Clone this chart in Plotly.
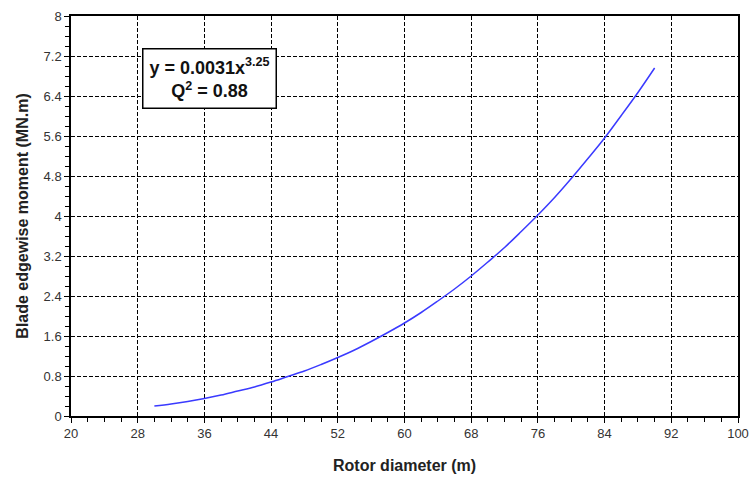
import plotly.graph_objects as go

rotor_diameter = [30, 32, 34, 36, 38, 40, 42, 44, 46, 48, 50, 52, 54, 56, 58, 60,
                  62, 64, 66, 68, 70, 72, 74, 76, 78, 80, 82, 84, 86, 88, 90]
edgewise_moment = [0.20, 0.24, 0.29, 0.35, 0.42, 0.50, 0.58, 0.68, 0.79, 0.90, 1.03,
                   1.17, 1.32, 1.49, 1.67, 1.86, 2.07, 2.30, 2.54, 2.80, 3.08, 3.37,
                   3.69, 4.02, 4.37, 4.75, 5.15, 5.56, 6.01, 6.47, 6.96]
x_ticks = [20, 28, 36, 44, 52, 60, 68, 76, 84, 92, 100]
y_ticks = [0, 0.8, 1.6, 2.4, 3.2, 4, 4.8, 5.6, 6.4, 7.2, 8]
y_tick_labels = ["0", "0.8", "1.6", "2.4", "3.2", "4", "4.8", "5.6", "6.4", "7.2", "8"]

FONT = "Liberation Sans, Arial"

fig = go.Figure()
fig.add_trace(go.Scatter(x=rotor_diameter, y=edgewise_moment, mode="lines",
                         line=dict(color="#3a3aff", width=1.5, shape="spline"),
                         showlegend=False))

axis_common = dict(
    showline=True, linecolor="black", linewidth=1.5, mirror=True,
    showgrid=True, gridcolor="black", gridwidth=1, griddash="4px,2px",
    zeroline=False, ticks="outside", ticklen=5, tickcolor="black",
    tickfont=dict(family=FONT, size=13, color="#333333"),
    automargin=False,
)

fig.update_xaxes(range=[20, 100], tickvals=x_ticks, **axis_common,
                 minor=dict(dtick=2, ticks="outside", ticklen=4, tickcolor="black", showgrid=False))
fig.update_yaxes(range=[0, 8], tickvals=y_ticks, ticktext=y_tick_labels, **axis_common,
                 minor=dict(dtick=0.2, ticks="outside", ticklen=4, tickcolor="black", showgrid=False))

fig.add_annotation(
    xref="paper", yref="paper", x=0.5, y=-0.123, xanchor="center", yanchor="middle",
    text="<b>Rotor diameter (m)</b>", showarrow=False,
    font=dict(family=FONT, size=16, color="#222222"),
)
fig.add_annotation(
    xref="paper", yref="paper", x=-0.074, y=0.5, xanchor="center", yanchor="middle",
    text="<b>Blade edgewise moment (MN.m)</b>", showarrow=False, textangle=-90,
    font=dict(family=FONT, size=16, color="#222222"),
)

fig.add_annotation(
    xref="paper", yref="paper", x=0.207, y=0.845, xanchor="center", yanchor="middle",
    text="<b>y = 0.0031x<sup>3.25</sup></b><br><b>Q<sup>2</sup> = 0.88</b>",
    showarrow=False, align="center",
    font=dict(family=FONT, size=18, color="#111111"),
    bordercolor="black", borderwidth=1.5, borderpad=6, bgcolor="white",
)

fig.update_layout(
    width=753, height=478,
    margin=dict(l=71, r=15, t=16, b=62),
    plot_bgcolor="white", paper_bgcolor="white",
)

# remove the default page margin so the 753x478 figure fills the window exactly
fig.write_html("out.html", config={"displayModeBar": False},
               post_script="document.body.style.margin='0';document.body.style.overflow='hidden';")
